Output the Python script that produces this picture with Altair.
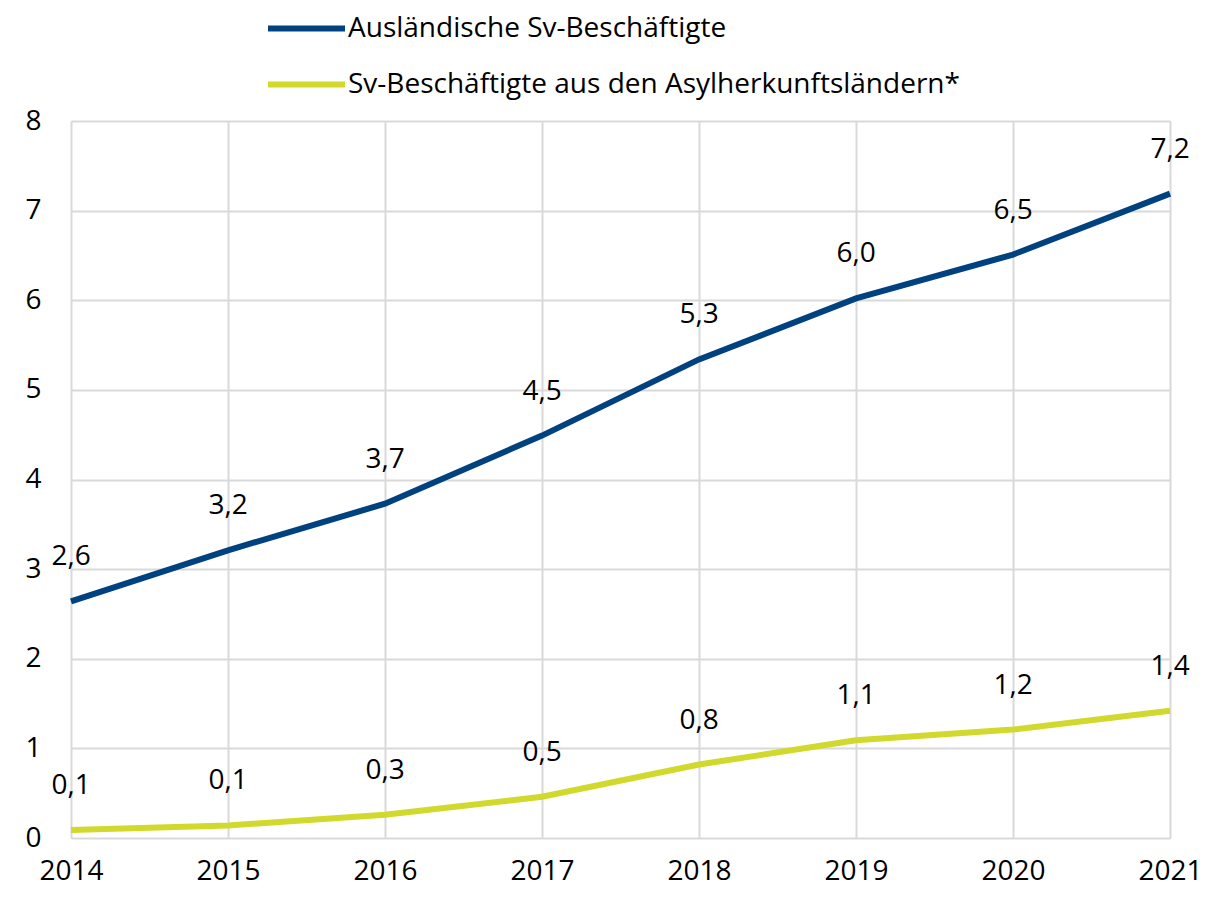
import altair as alt
import pandas as pd

years = [2014, 2015, 2016, 2017, 2018, 2019, 2020, 2021]
series_names = ["Ausländische Sv-Beschäftigte", "Sv-Beschäftigte aus den Asylherkunftsländern*"]
auslaendische = [2.64, 3.21, 3.73, 4.49, 5.34, 6.02, 6.51, 7.19]
asyl = [0.09, 0.14, 0.26, 0.46, 0.82, 1.09, 1.21, 1.42]
colors = ["#00427f", "#d0d92c"]

rows = []
for i, y in enumerate(years):
    rows.append({"Jahr": y, "Wert": auslaendische[i], "Reihe": series_names[0]})
    rows.append({"Jahr": y, "Wert": asyl[i], "Reihe": series_names[1]})
df = pd.DataFrame(rows)

FONT = "Open Sans"
FS = 28

x = alt.X("Jahr:Q", scale=alt.Scale(domain=[2014, 2021], nice=False),
          axis=alt.Axis(values=years, format="d", title=None, grid=True, ticks=False,
                        domain=False, labelPadding=19, labelFontSize=FS, labelFont=FONT,
                        labelFlush=False, labelOverlap=False,
                        labelColor="#000000", gridColor="#d9d9d9", gridWidth=2))
y = alt.Y("Wert:Q", scale=alt.Scale(domain=[0, 8], nice=False),
          axis=alt.Axis(values=list(range(0, 9)), title=None, grid=True, ticks=False,
                        domain=False, labelPadding=30, labelFontSize=FS, labelFont=FONT,
                        labelFlush=False, labelOverlap=False,
                        labelColor="#000000", gridColor="#d9d9d9", gridWidth=2))
color = alt.Color("Reihe:N", scale=alt.Scale(domain=series_names, range=colors),
                  legend=alt.Legend(title=None, orient="none", legendX=194, legendY=-134,
                                    direction="vertical", symbolType="stroke",
                                    symbolSize=5929, symbolStrokeWidth=6,
                                    labelFontSize=FS, labelFont=FONT, labelColor="#000000",
                                    labelOffset=0, rowPadding=0, labelLimit=800))

base = alt.Chart(df)
lines = base.mark_line(strokeWidth=6, strokeCap="butt").encode(
    x=x, y=y, color=color)
labels = base.mark_text(dy=-44, fontSize=FS, font=FONT, color="#000000").encode(
    x=x, y=y, text="lbl:N").transform_calculate(
    lbl="replace(format(datum.Wert, '.1f'), '.', ',')")

chart = (lines + labels).properties(
    width=1099, height=717,
    autosize=alt.AutoSizeParams(type="none"),
    padding={"left": 63, "top": 113, "right": 46, "bottom": 51},
).configure_view(stroke=None).configure(background="#ffffff")

chart.save("out.html", embed_options={"renderer": "svg", "actions": False})
